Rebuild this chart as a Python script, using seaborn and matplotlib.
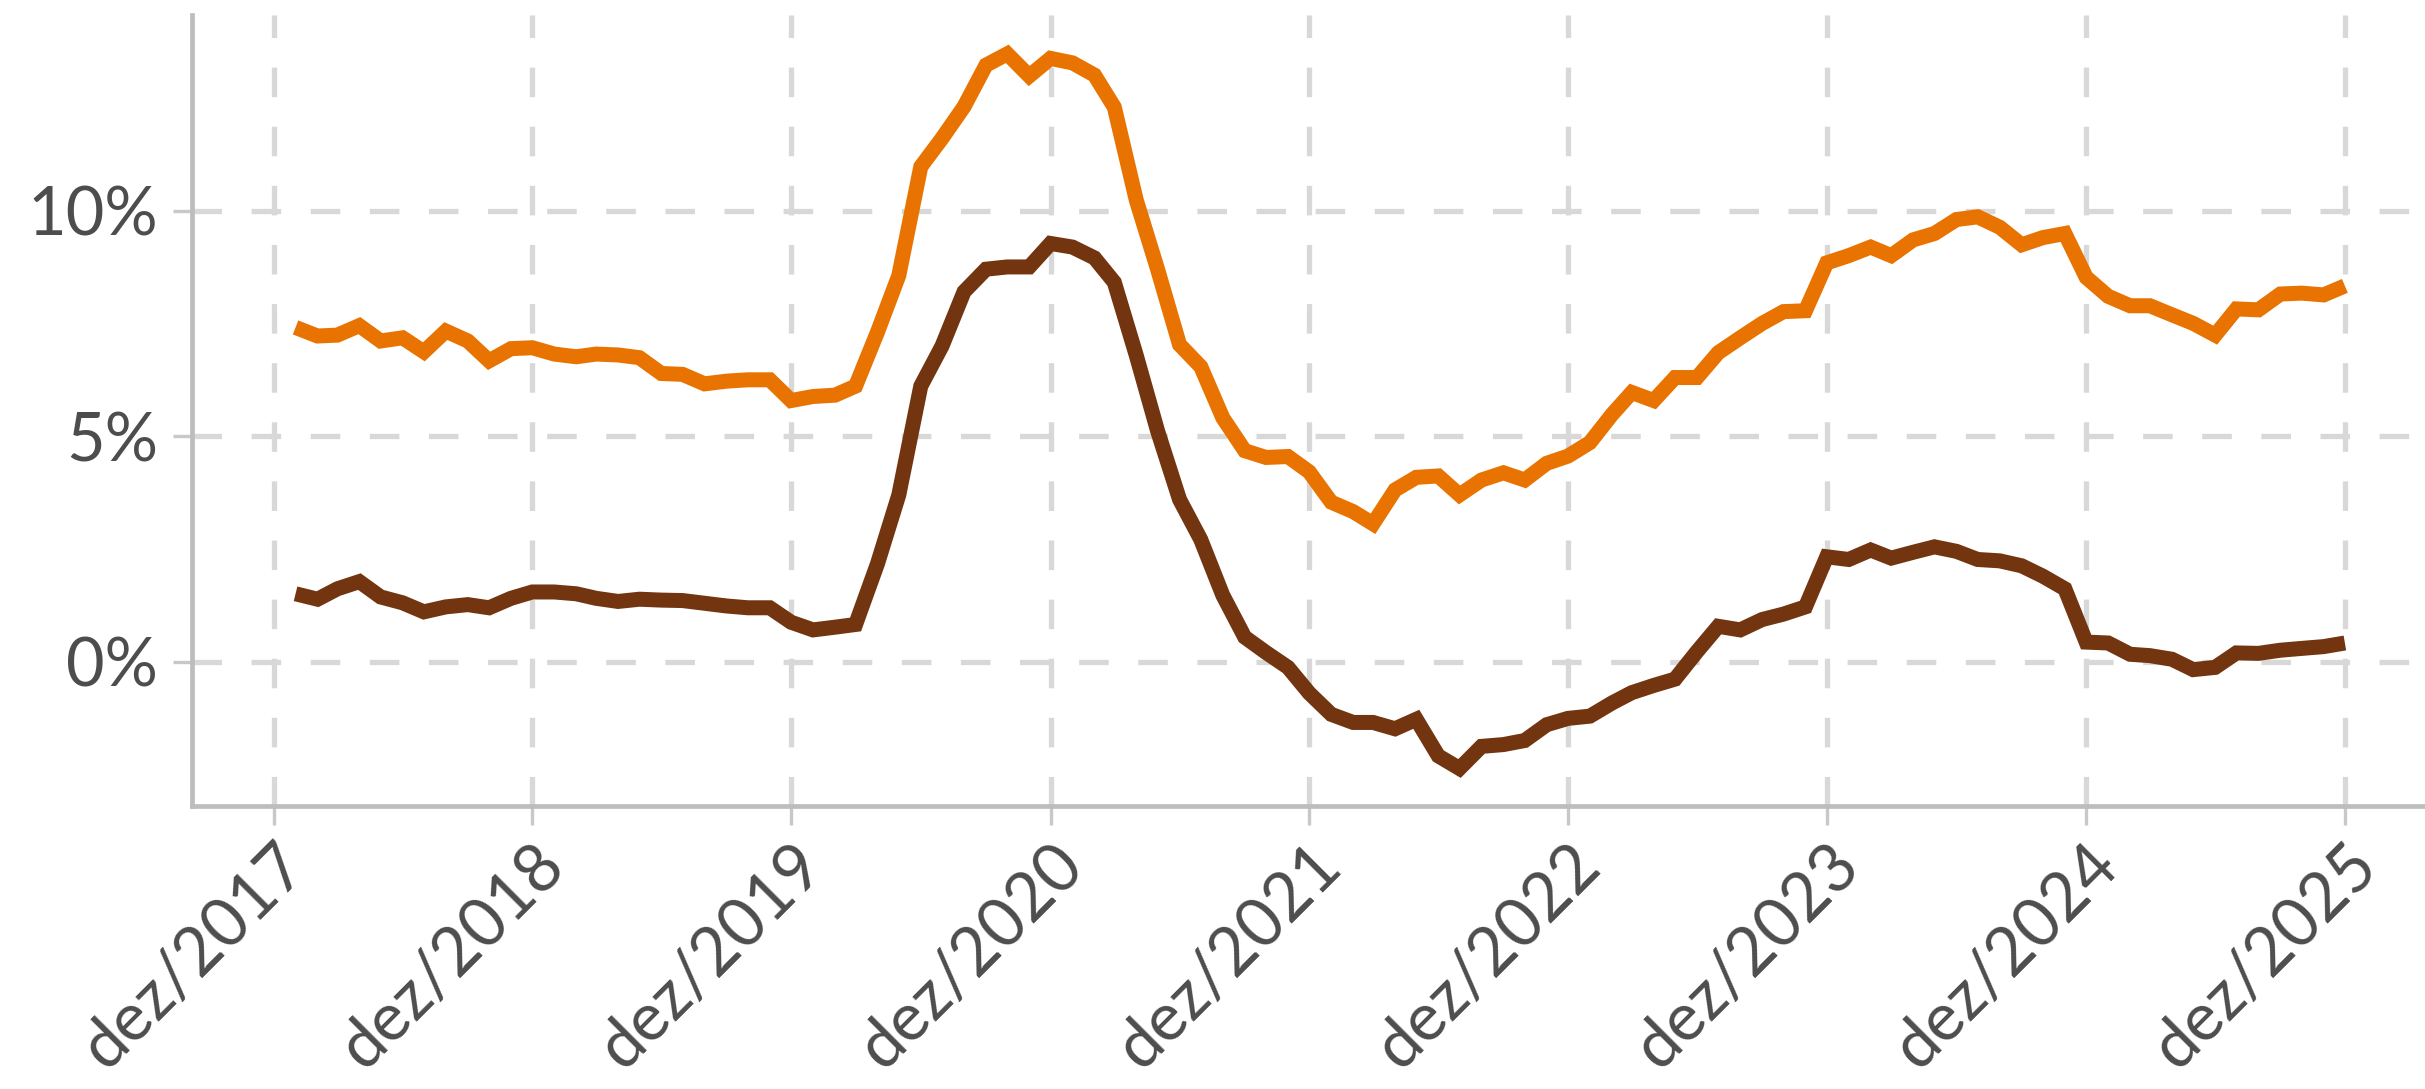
import numpy as np
import pandas as pd
import matplotlib
matplotlib.use("Agg")
import matplotlib.pyplot as plt
import seaborn as sns

# ---- data (monthly, jan/2018 .. dez/2025), values in % ----
months = pd.date_range("2018-01-01", periods=96, freq="MS")

serie_laranja = [
    7.41, 7.22, 7.24, 7.45, 7.11, 7.18, 6.87, 7.33, 7.11, 6.67, 6.94, 6.96,
    6.82, 6.76, 6.82, 6.80, 6.74, 6.39, 6.37, 6.16, 6.22, 6.25, 6.25, 5.79,
    5.88, 5.91, 6.11, 7.31, 8.56, 10.97, 11.60, 12.30, 13.22, 13.47, 12.98, 13.37,
    13.27, 13.00, 12.29, 10.23, 8.70, 7.03, 6.54, 5.41, 4.68, 4.53, 4.55, 4.21,
    3.54, 3.33, 3.06, 3.81, 4.09, 4.12, 3.70, 4.03, 4.19, 4.03, 4.40, 4.56,
    4.86, 5.48, 5.97, 5.79, 6.30, 6.30, 6.85, 7.18, 7.50, 7.76, 7.78, 8.84,
    9.00, 9.19, 9.00, 9.35, 9.49, 9.80, 9.86, 9.63, 9.24, 9.40, 9.49, 8.52,
    8.10, 7.89, 7.89, 7.69, 7.50, 7.24, 7.82, 7.80, 8.15, 8.17, 8.13, 8.33,
]

serie_marrom = [
    1.51, 1.39, 1.62, 1.78, 1.44, 1.31, 1.11, 1.22, 1.27, 1.20, 1.41, 1.55,
    1.55, 1.51, 1.41, 1.34, 1.39, 1.37, 1.36, 1.30, 1.24, 1.20, 1.20, 0.88,
    0.71, 0.77, 0.83, 2.18, 3.70, 6.11, 7.00, 8.20, 8.70, 8.75, 8.75, 9.27,
    9.19, 8.95, 8.41, 6.79, 5.12, 3.60, 2.71, 1.48, 0.55, 0.21, -0.12, -0.69,
    -1.16, -1.34, -1.34, -1.48, -1.27, -2.08, -2.36, -1.87, -1.83, -1.74, -1.39, -1.25,
    -1.20, -0.91, -0.68, -0.52, -0.38, 0.23, 0.79, 0.71, 0.94, 1.06, 1.22, 2.33,
    2.27, 2.48, 2.30, 2.43, 2.55, 2.45, 2.27, 2.24, 2.13, 1.90, 1.62, 0.44,
    0.42, 0.17, 0.14, 0.06, -0.17, -0.12, 0.20, 0.19, 0.26, 0.30, 0.34, 0.42,
]

tick_dates = pd.date_range("2017-12-01", periods=9, freq="12MS")
tick_labels = ["dez/2017", "dez/2018", "dez/2019", "dez/2020", "dez/2021",
               "dez/2022", "dez/2023", "dez/2024", "dez/2025"]
y_ticks = [0, 5, 10]
y_tick_labels = ["0%", "5%", "10%"]

series_names = ["laranja", "marrom"]
series_colors = ["#E97300", "#723510"]

df = pd.concat([
    pd.DataFrame({"data": months, "valor": serie_laranja, "serie": series_names[0]}),
    pd.DataFrame({"data": months, "valor": serie_marrom, "serie": series_names[1]}),
], ignore_index=True)

# ---- style ----
sns.set_theme(style="white")
plt.rcParams["font.family"] = ["Lato", "DejaVu Sans"]

TEXT = "#4D4D4D"
SPINE = "#BDBDBD"
GRID = "#D8D8D8"

fig = plt.figure(figsize=(12.125, 5.445), dpi=200)
ax = fig.add_axes([0.0792, 0.2599, 0.9208, 0.7263])

sns.lineplot(data=df, x="data", y="valor", hue="serie",
             palette=dict(zip(series_names, series_colors)),
             linewidth=5.4, legend=False, ax=ax, zorder=3,
             solid_capstyle="butt", solid_joinstyle="miter")

ax.set_xlim(pd.Timestamp("2017-08-08"), pd.Timestamp("2026-03-24"))
ax.set_ylim(-3.19, 14.33)

ax.set_xticks(tick_dates)
ax.set_xticklabels(tick_labels)
ax.set_yticks(y_ticks)
ax.set_yticklabels(y_tick_labels)

ax.grid(True, which="major", axis="both", color=GRID, linewidth=1.9,
        linestyle=(0, (5.6, 5.6)), zorder=0)
ax.set_axisbelow(True)

for side in ["top", "right"]:
    ax.spines[side].set_visible(False)
for side in ["left", "bottom"]:
    ax.spines[side].set_color(SPINE)
    ax.spines[side].set_linewidth(1.7)

ax.tick_params(axis="both", which="major", length=6.8, width=1.2,
               color="#C8C8C8", labelcolor=TEXT, labelsize=24)
ax.tick_params(axis="y", pad=5.5)
ax.tick_params(axis="x", pad=3)
ax.tick_params(left=True, bottom=True)

for lbl in ax.get_xticklabels():
    lbl.set_rotation(45)
    lbl.set_ha("right")
    lbl.set_va("top")
    lbl.set_rotation_mode("anchor")

ax.set_xlabel("")
ax.set_ylabel("")

fig.savefig("out.png", dpi=200, facecolor="white")
